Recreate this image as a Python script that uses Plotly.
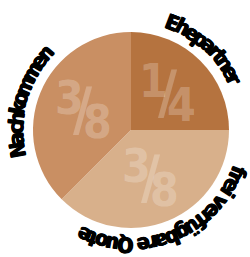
import math
import plotly.graph_objects as go

# ---- data ----
labels = ["Ehepartner", "frei verfügbare Quote", "Nachkommen"]
values = [2, 3, 3]            # eighths: 1/4, 3/8, 3/8
numerators = ["1", "3", "3"]
denominators = ["4", "8", "8"]
colors = ["#B5733F", "#D8B08B", "#C98F63"]

# ---- geometry (pixels) ----
W, H = 250, 257
CX, CY, R = 131, 130, 98
LABEL_R = 115
FONT = "DejaVu Sans Condensed, sans-serif"

fig = go.Figure()
fig.add_trace(go.Pie(
    labels=labels, values=values, sort=False, direction="clockwise", rotation=0,
    marker=dict(colors=colors, line=dict(width=0)),
    textinfo="none", hoverinfo="label+percent", showlegend=False,
    domain=dict(x=[(CX - R) / W, (CX + R) / W],
                y=[(H - CY - R) / H, (H - CY + R) / H]),
))

def pt(theta, r):
    t = math.radians(theta)
    return CX + r * math.sin(t), CY - r * math.cos(t)

annotations = []
total = sum(values)
start = 0.0
for v, num, den in zip(values, numerators, denominators):
    span = 360.0 * v / total
    mid = start + span / 2
    start += span
    x, y = pt(mid, 0.53 * R)
    fc = "rgba(255,255,255,0.24)"
    annotations.append(dict(x=x - 14, y=y - 12, text=num, showarrow=False,
                            font=dict(family=FONT, size=46, color=fc, weight=600)))
    annotations.append(dict(x=x, y=y, text="/", showarrow=False,
                            font=dict(family=FONT, size=58, color=fc, weight=600)))
    annotations.append(dict(x=x + 14, y=y + 12, text=den, showarrow=False,
                            font=dict(family=FONT, size=46, color=fc, weight=600)))

# curved outside labels (clockwise, tops outward)
CW = {"E": 667, "h": 611, "e": 556, "p": 611, "a": 556, "r": 389, "t": 333,
      "n": 611, "N": 722, "c": 556, "k": 556, "o": 611, "m": 889, "f": 333,
      "i": 278, "v": 556, "ü": 611, "g": 611, "b": 611, "Q": 778, "u": 611, " ": 250}
label_spans = {"Ehepartner": (21, 64), "frei verfügbare Quote": (111, 204),
               "Nachkommen": (260, 312)}
for name in labels:
    a0, a1 = label_spans[name]
    ws = [CW.get(c, 556) for c in name]
    centers = []
    acc = 0
    for w in ws:
        centers.append(acc + w / 2)
        acc += w
    c0, c1 = centers[0], centers[-1]
    for ch, c in zip(name, centers):
        if ch == " ":
            continue
        th = a0 + (a1 - a0) * (c - c0) / (c1 - c0)
        x, y = pt(th, LABEL_R)
        annotations.append(dict(x=x, y=y, text=ch, showarrow=False, textangle=th,
                                xanchor="center", yanchor="middle",
                                font=dict(family=FONT, size=21, color="black", weight="bold",
                                          shadow="0.7px 0 0 black, -0.7px 0 0 black, 0 0.5px 0 black")))

for a in annotations:
    a.setdefault("xref", "x")
    a.setdefault("yref", "y")

fig.update_layout(
    width=W, height=H, margin=dict(l=0, r=0, t=0, b=0),
    paper_bgcolor="white", plot_bgcolor="rgba(0,0,0,0)",
    xaxis=dict(range=[0, W], visible=False, fixedrange=True),
    yaxis=dict(range=[H, 0], visible=False, fixedrange=True),
    annotations=annotations,
)
fig.write_html("out.html", config={"displayModeBar": False},
               post_script="document.body.style.margin='0';document.body.style.overflow='hidden';")
